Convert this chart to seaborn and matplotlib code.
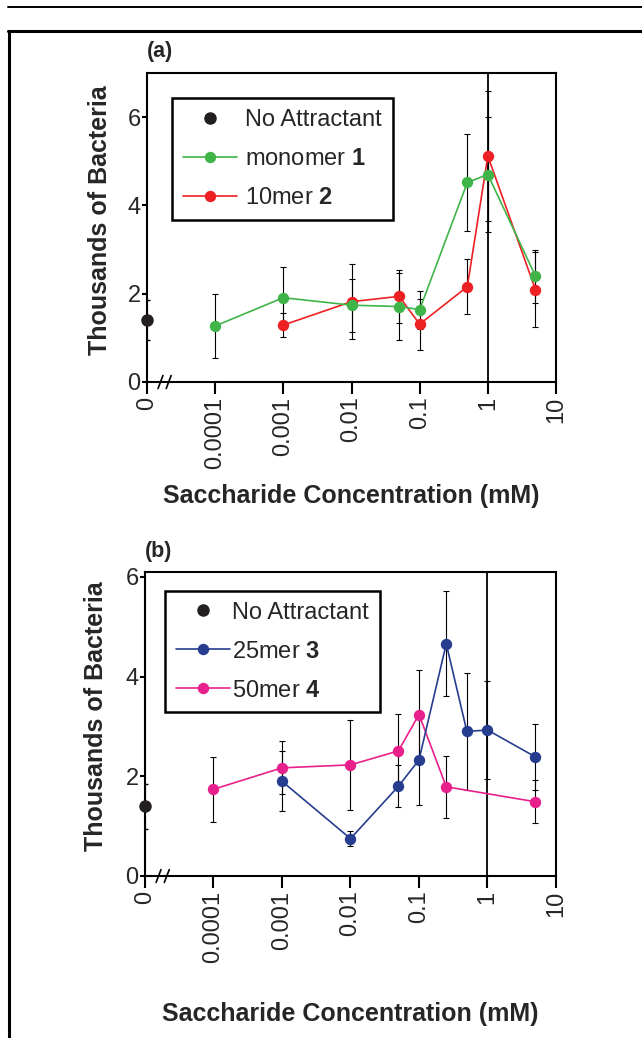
import matplotlib
matplotlib.use("Agg")
import matplotlib.pyplot as plt
from matplotlib.lines import Line2D
import pandas as pd
import seaborn as sns

# x stand-in for the "0" (no attractant) category on the log axis
ZERO_POS = 1e-5
tick_pos = [1e-5, 1e-4, 1e-3, 1e-2, 1e-1, 1, 10]
tick_labels = ["0", "0.0001", "0.001", "0.01", "0.1", "1", "10"]

# no attractant control (both panels)
none_mean = 1.40
none_err = 0.45

# panel (a)
mono_conc = [0.0001, 0.001, 0.01, 0.05, 0.1, 0.5, 1, 5]
mono_mean = [1.27, 1.91, 1.74, 1.71, 1.64, 4.52, 4.70, 2.40]
mono_err = [0.72, 0.70, 0.60, 0.76, 0.43, 1.09, 1.30, 0.60]

mer10_conc = [0.001, 0.01, 0.05, 0.1, 0.5, 1, 5]
mer10_mean = [1.29, 1.82, 1.94, 1.31, 2.16, 5.12, 2.09]
mer10_err = [0.28, 0.85, 0.60, 0.58, 0.63, 1.48, 0.85]

# panel (b)
mer25_conc = [0.001, 0.01, 0.05, 0.1, 0.25, 0.5, 1, 5]
mer25_mean = [1.90, 0.75, 1.80, 2.33, 4.66, 2.90, 2.93, 2.39]
mer25_err = [0.60, 0.15, 0.42, 0.90, 1.05, 1.18, 0.98, 0.66]

mer50_conc = [0.0001, 0.001, 0.01, 0.05, 0.1, 0.25, 5]
mer50_mean = [1.74, 2.17, 2.23, 2.51, 3.24, 1.79, 1.49]
mer50_err = [0.65, 0.53, 0.91, 0.75, 0.90, 0.62, 0.43]

GREEN = "#3fb549"
RED = "#ed2024"
BLUE = "#263d8f"
PINK = "#e8208c"
DOT = "#231f20"

sns.set_style("ticks")
plt.rcParams["font.family"] = ["Liberation Sans", "DejaVu Sans"]
plt.rcParams["mathtext.fontset"] = "custom"
plt.rcParams["mathtext.rm"] = "Liberation Sans"
plt.rcParams["mathtext.bf"] = "Liberation Sans:bold"

fig = plt.figure(figsize=(6.42, 10.38), dpi=100)
ax_a = fig.add_axes([147 / 642, 1 - 382 / 1038, 409 / 642, 309 / 1038])
ax_b = fig.add_axes([145 / 642, 1 - 876 / 1038, 411 / 642, 304 / 1038])


def draw_series(ax, conc, mean, err, color, label, z):
    df = pd.DataFrame({"conc": conc, "count": mean})
    ax.errorbar(conc, mean, yerr=err, fmt="none", ecolor="black",
                elinewidth=0.8, capsize=2.2, capthick=0.8, zorder=z - 1)
    sns.lineplot(data=df, x="conc", y="count", ax=ax, color=color,
                 marker="o", markersize=8.2, markeredgewidth=0,
                 linewidth=1.2, label=label, zorder=z, legend=False)


def style_axes(ax, ymax, title, legend_xy, text_pad, xlabel_pad, ylabel_xy):
    ax.set_xscale("log")
    ax.set_xlim(1e-5, 10)
    ax.set_ylim(0, ymax)
    ax.set_xticks(tick_pos)
    ax.set_xticklabels(tick_labels, rotation=90, fontsize=17)
    ax.minorticks_off()
    ax.set_yticks([0, 2, 4, 6])
    ax.set_yticklabels(["0", "2", "4", "6"], fontsize=17)
    ax.tick_params(axis="x", length=8.5, width=1.5, pad=2, color="black")
    ax.tick_params(axis="y", length=3.5, width=1.5, pad=1, color="black")
    for sp in ax.spines.values():
        sp.set_linewidth(1.5)
        sp.set_color("black")
    ax.axvline(1, color="black", linewidth=1.3, zorder=1)

    # axis break marks on the x axis
    for dx in (0.0, 0.02):
        ax.plot([0.027 + dx, 0.039 + dx], [-0.021, 0.021], color="black",
                linewidth=1.2, transform=ax.transAxes, clip_on=False, zorder=5)

    ax.set_xlabel("Saccharide Concentration (mM)", fontsize=18,
                  fontweight="bold", labelpad=xlabel_pad)
    ax.set_ylabel("Thousands of Bacteria", fontsize=18, fontweight="bold")
    ax.yaxis.set_label_coords(*ylabel_xy)
    ax.text(0.0, 1.068, title, transform=ax.transAxes, ha="left",
            va="center", fontsize=15.5, fontweight="bold")

    handles, labels = ax.get_legend_handles_labels()
    leg = ax.legend(handles, labels, loc="upper left",
                    bbox_to_anchor=legend_xy, fontsize=17, frameon=True,
                    fancybox=False, edgecolor="black", framealpha=1,
                    handlelength=2.3, handletextpad=text_pad,
                    labelspacing=0.72, borderpad=0.45, borderaxespad=0)
    leg.get_frame().set_linewidth(1.8)


# panel (a)
ax_a.set_xscale("log")
ax_a.errorbar([ZERO_POS], [none_mean], yerr=[none_err], fmt="none",
              ecolor="black", elinewidth=0.8, capsize=2.2, zorder=3)
ax_a.plot([ZERO_POS], [none_mean], "o", color=DOT, markersize=8,
          label="No Attractant", clip_on=False, zorder=6)
draw_series(ax_a, mono_conc, mono_mean, mono_err, GREEN,
            r"monomer $\mathbf{1}$", 5)
draw_series(ax_a, mer10_conc, mer10_mean, mer10_err, RED,
            r"10mer $\mathbf{2}$", 4)
style_axes(ax_a, 7.0, "(a)", (0.061, 0.918), 0.35, 11, (-0.086, 0.524))

# panel (b)
ax_b.set_xscale("log")
ax_b.errorbar([ZERO_POS], [none_mean], yerr=[none_err], fmt="none",
              ecolor="black", elinewidth=0.8, capsize=2.2, zorder=3)
ax_b.plot([ZERO_POS], [none_mean], "o", color=DOT, markersize=8,
          label="No Attractant", clip_on=False, zorder=6)
draw_series(ax_b, mer25_conc, mer25_mean, mer25_err, BLUE,
            r"25mer $\mathbf{3}$", 5)
draw_series(ax_b, mer50_conc, mer50_mean, mer50_err, PINK,
            r"50mer $\mathbf{4}$", 4)
style_axes(ax_b, 6.1, "(b)", (0.049, 0.9375), 0.1, 28, (-0.09, 0.526))

# page frame lines
fig.add_artist(Line2D([8 / 642, 1], [1 - 7 / 1038] * 2, color="black",
                      linewidth=1.4))
fig.add_artist(Line2D([8 / 642, 1], [1 - 31 / 1038] * 2, color="black",
                      linewidth=2.2))
fig.add_artist(Line2D([9 / 642, 9 / 642], [0, 1 - 31 / 1038], color="black",
                      linewidth=2.2))

fig.savefig("out.png", dpi=100)
